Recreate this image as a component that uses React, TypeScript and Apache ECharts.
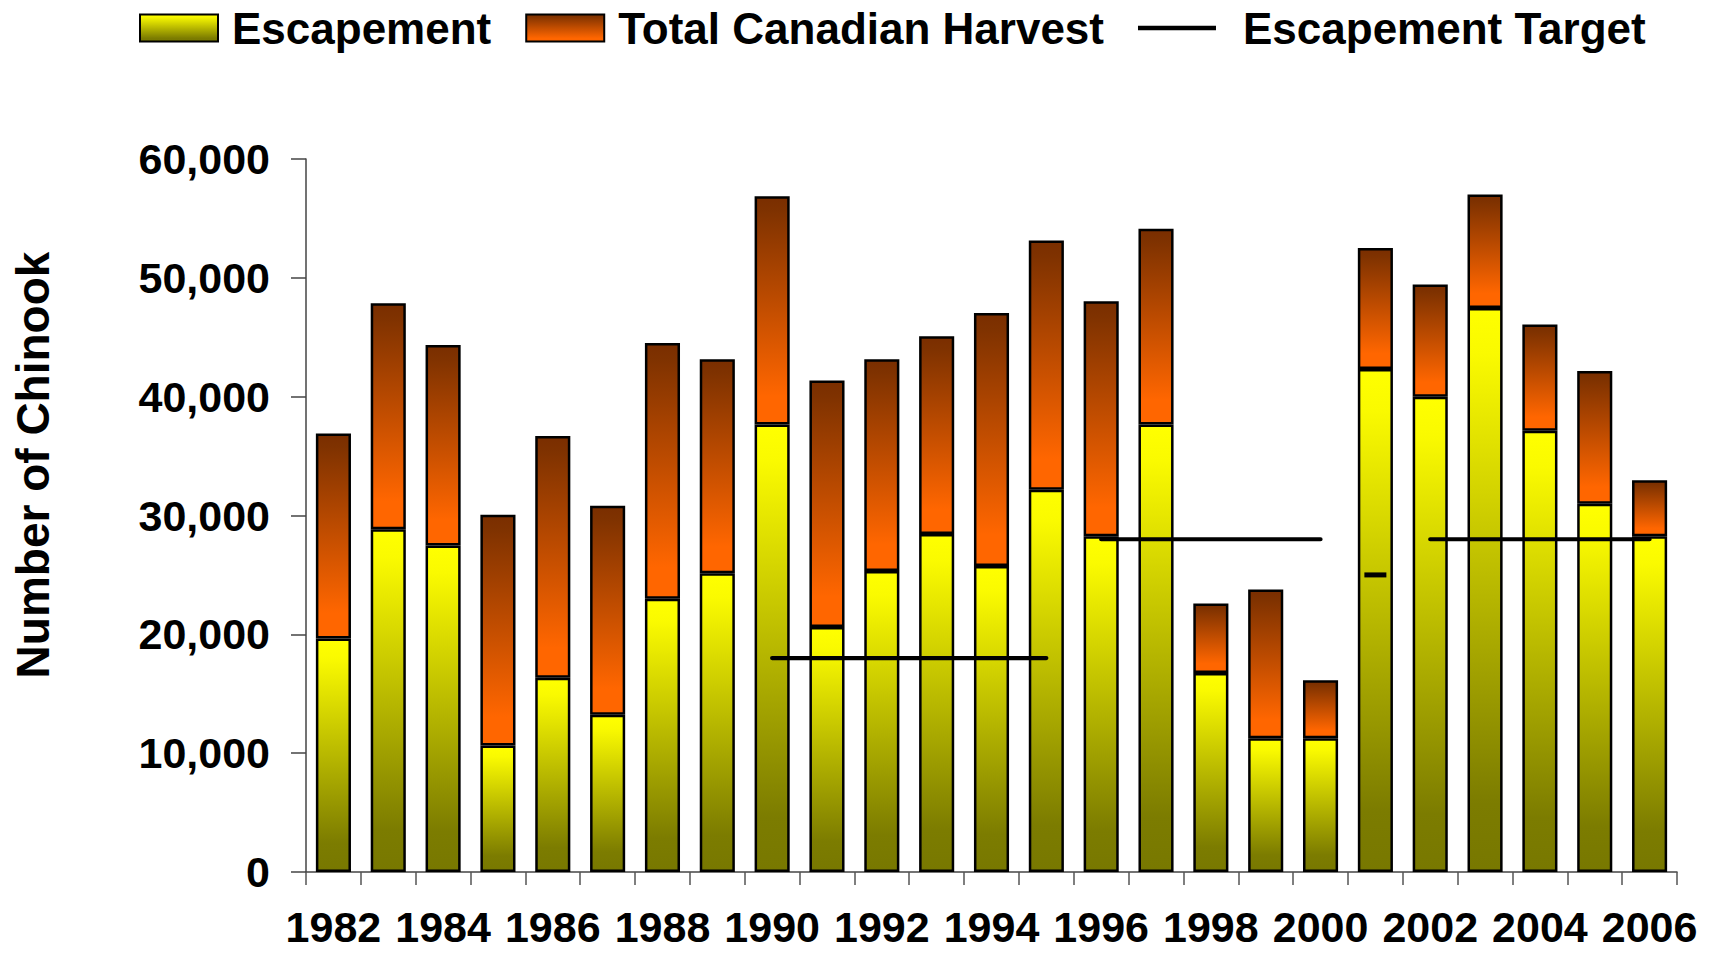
import React, { useEffect, useRef } from "react";
import * as echarts from "echarts";

const years = [
  "1982", "1983", "1984", "1985", "1986", "1987", "1988", "1989", "1990", "1991",
  "1992", "1993", "1994", "1995", "1996", "1997", "1998", "1999", "2000", "2001",
  "2002", "2003", "2004", "2005", "2006",
];

const escapement = [
  19650, 28850, 27480, 10650, 16340, 13240, 23000, 25140, 37650, 20620,
  25340, 28450, 25750, 32160, 28250, 37650, 16750, 11260, 11260, 42330,
  40000, 47460, 37130, 30990, 28250,
];

const harvest = [
  17250, 19010, 16870, 19410, 20340, 17590, 21510, 18000, 19210, 20740,
  17800, 16630, 21300, 20990, 19770, 16470, 5850, 12510, 4880, 10170,
  9430, 9560, 8950, 11180, 4720,
];

// Escapement target segments (null = no target drawn)
const target1990s = [
  null, null, null, null, null, null, null, null, 18000, 18000,
  18000, 18000, 18000, 18000, null, null, null, null, null, null,
  null, null, null, null, null,
];
const target1996s = [
  null, null, null, null, null, null, null, null, null, null,
  null, null, null, null, 28000, 28000, 28000, 28000, 28000, null,
  null, null, null, null, null,
];
const target2001 = [
  null, null, null, null, null, null, null, null, null, null,
  null, null, null, null, null, null, null, null, null, 25000,
  null, null, null, null, null,
];
const target2002s = [
  null, null, null, null, null, null, null, null, null, null,
  null, null, null, null, null, null, null, null, null, null,
  28000, 28000, 28000, 28000, 28000,
];

const yTicks = { min: 0, max: 60000, interval: 10000 };

const FONT = "'Liberation Sans', Arial, Helvetica, sans-serif";

export default function App() {
  const ref = useRef<HTMLDivElement>(null);

  useEffect(() => {
    if (!ref.current) return;
    const chart = echarts.init(ref.current, null, { renderer: "svg" });

    const escGrad = new echarts.graphic.LinearGradient(0, 0, 0, 1, [
      { offset: 0, color: "#ffff00" },
      { offset: 0.08, color: "#fafa00" },
      { offset: 0.88, color: "#7c7c00" },
      { offset: 1, color: "#787800" },
    ]);
    const harvGrad = new echarts.graphic.LinearGradient(0, 0, 0, 1, [
      { offset: 0, color: "#7a2e00" },
      { offset: 0.06, color: "#7f3200" },
      { offset: 0.88, color: "#ff6600" },
      { offset: 1, color: "#ff6600" },
    ]);

    const lineStyle = { color: "#000", width: 4.2, cap: "round" as const };

    const targetSeries = (data: (number | null)[]) => ({
      name: "Escapement Target",
      type: "line",
      data,
      symbol: "none",
      connectNulls: false,
      lineStyle,
      itemStyle: { color: "#000" },
      z: 5,
    });

    const legendText = {
      fontFamily: FONT,
      fontWeight: "bold",
      fontSize: 44,
      color: "#000",
    };

    chart.setOption({
      animation: false,
      backgroundColor: "#fff",
      textStyle: { fontFamily: FONT },
      legend: {
        left: 139,
        top: 6,
        padding: 0,
        icon: "rect",
        itemWidth: 78,
        itemHeight: 27,
        itemGap: 34,
        symbolKeepAspect: true,
        textStyle: { ...legendText, padding: [0, 0, 0, 9] },
        data: [
          { name: "Escapement", icon: "rect" },
          { name: "Total Canadian Harvest", icon: "rect" },
          {
            name: "Escapement Target",
            icon: "path://M0,0H86V5H0Z",
            textStyle: { ...legendText, padding: [0, 0, 0, 22] },
          },
        ],
      },
      grid: {
        left: 306,
        right: 32,
        top: 159,
        bottom: 82,
        containLabel: false,
      },
      xAxis: {
        type: "category",
        data: years,
        boundaryGap: true,
        axisLine: { show: true, lineStyle: { color: "#444", width: 1.5 } },
        axisTick: {
          show: true,
          interval: 0,
          length: 13,
          lineStyle: { color: "#555", width: 1.5 },
        },
        axisLabel: {
          interval: 1,
          margin: 34,
          fontFamily: FONT,
          fontWeight: "bold",
          fontSize: 43,
          lineHeight: 42,
          color: "#000",
        },
        splitLine: { show: false },
      },
      yAxis: {
        type: "value",
        min: yTicks.min,
        max: yTicks.max,
        interval: yTicks.interval,
        axisLine: { show: true, lineStyle: { color: "#444", width: 1.5 } },
        axisTick: { show: true, length: 15, lineStyle: { color: "#444", width: 1.5 } },
        axisLabel: {
          margin: 36,
          fontFamily: FONT,
          fontWeight: "bold",
          fontSize: 43,
          color: "#000",
          formatter: (v: number) => v.toLocaleString("en-US"),
        },
        splitLine: { show: false },
      },
      graphic: [
        {
          type: "text",
          x: 33,
          y: 465,
          rotation: Math.PI / 2,
          style: {
            text: "Number of Chinook",
            fontFamily: FONT,
            fontWeight: "bold",
            fontSize: 46,
            fill: "#000",
            align: "center",
            verticalAlign: "middle",
          },
        },
      ],
      series: [
        {
          name: "Escapement",
          type: "bar",
          stack: "total",
          data: escapement,
          barCategoryGap: "36%",
          itemStyle: { color: escGrad, borderColor: "#000", borderWidth: 2.5 },
        },
        {
          name: "Total Canadian Harvest",
          type: "bar",
          stack: "total",
          data: harvest,
          barCategoryGap: "36%",
          itemStyle: { color: harvGrad, borderColor: "#000", borderWidth: 2.5 },
        },
        targetSeries(target1990s),
        targetSeries(target1996s),
        targetSeries(target2002s),
        {
          name: "Escapement Target",
          type: "line",
          data: target2001,
          symbol: "rect",
          symbolSize: [22, 5],
          showSymbol: true,
          showAllSymbol: true,
          lineStyle,
          itemStyle: { color: "#000" },
          z: 5,
        },
      ],
    });

    return () => chart.dispose();
  }, []);

  return (
    <div
      ref={ref}
      style={{ position: "fixed", left: 0, top: 0, width: 1709, height: 954 }}
    />
  );
}
